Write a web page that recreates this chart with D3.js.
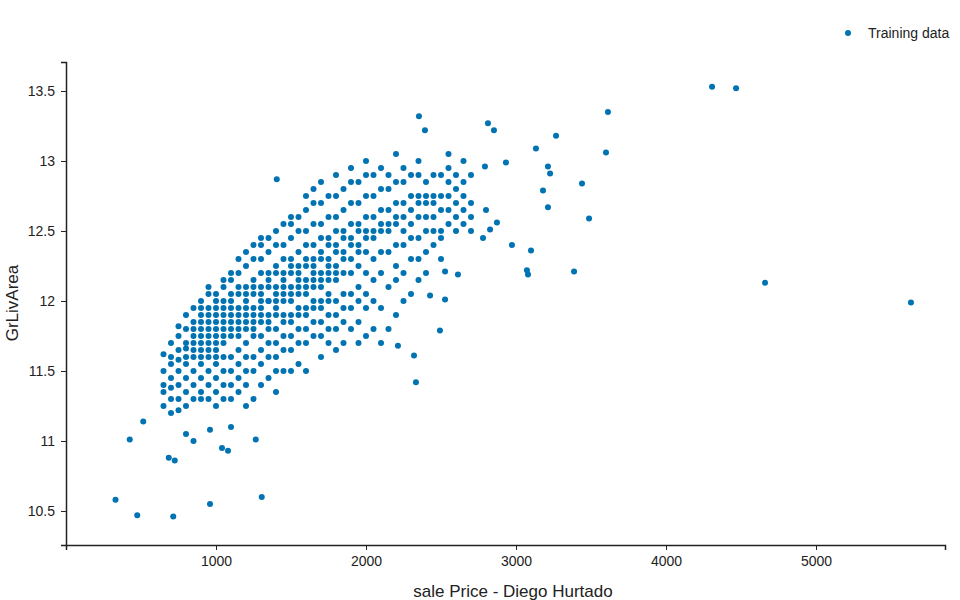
<!DOCTYPE html>
<html><head><meta charset="utf-8">
<script src="https://cdn.jsdelivr.net/npm/d3@7"></script>
<style>
body{margin:0;background:#fff;font-family:"Liberation Sans",Arial,sans-serif;}
.tick text{font-size:14px;fill:#222;}
</style></head><body>
<svg id="chart" width="960" height="600"></svg>
<script>
// outliers read point by point: [salePrice, GrLivArea]
const outliers = [
  [330,10.58],[475,10.47],[715,10.46],[960,10.55],[1305,10.60],[425,11.01],[515,11.14],
  [1265,11.01],[1080,10.93],[1040,10.95],[685,10.88],[725,10.86],[960,11.08],
  [2320,11.61],[2213,11.68],[2333,11.42],[1405,12.87],[2353,13.32],[2393,13.22],
  [2813,13.27],[2853,13.22],[3267,13.18],[3133,13.09],[3613,13.35],[3600,13.06],
  [3213,12.96],[3227,12.91],[3180,12.79],[3213,12.67],[3440,12.84],[3487,12.59],
  [3387,12.21],[3073,12.22],[3080,12.19],[3100,12.36],[2973,12.40],[2933,12.99],
  [2793,12.96],[4307,13.53],[4467,13.52],[4660,12.13],[5633,11.99],[2873,12.56],
  [2827,12.51],[2780,12.45],[2800,12.65],[2613,12.19],[2527,12.21],[2527,12.01],
  [2493,11.79],[2427,12.04]
];
// main cloud, grouped by approximate sale price column
const cloud = [
  [650,[11.35,11.5,11.62,11.4,11.25]],
  [700,[11.3,11.45,11.6,11.7,11.55,11.2,11.38]],
  [750,[11.5,11.65,11.75,11.4,11.3,11.58,11.82,11.22]],
  [800,[11.6,11.7,11.8,11.45,11.35,11.9,11.55,11.25,11.05,11.66]],
  [850,[11.7,11.85,11.75,11.6,11.5,11.4,11.95,11.3,11.65,11.8,11.0]],
  [900,[11.75,11.9,11.8,11.65,11.55,11.45,12.0,11.35,11.7,11.85,11.6,11.3,11.95]],
  [950,[11.8,11.9,11.7,11.6,11.5,12.05,11.4,11.85,11.75,11.95,11.3,12.1,11.65]],
  [1000,[11.85,11.95,11.75,11.65,11.55,12.05,11.45,11.9,11.8,12.0,11.35,11.25,11.7,11.6]],
  [1050,[11.9,12.0,11.8,11.7,11.6,12.1,11.5,11.95,11.85,11.4,11.3,12.15,11.75]],
  [1100,[11.9,12.05,11.85,11.75,11.6,12.15,11.5,12.0,11.95,11.4,11.3,12.2,11.8,11.1]],
  [1150,[11.95,12.1,11.9,11.8,11.65,12.2,11.55,12.05,11.85,11.45,11.35,12.3,11.75]],
  [1200,[12.0,12.1,11.95,11.85,11.7,12.25,11.6,12.05,11.9,11.5,11.4,12.35,11.8,11.25]],
  [1250,[12.05,12.15,11.95,11.85,11.75,12.3,11.6,12.1,11.9,11.5,12.4,11.8,11.3]],
  [1300,[12.05,12.2,12.0,11.9,11.75,12.3,11.65,12.1,11.95,11.55,12.4,11.85,11.4,12.45]],
  [1350,[12.1,12.2,12.0,11.9,11.8,12.35,11.7,12.15,12.0,11.6,12.45,11.85,11.45]],
  [1400,[12.1,12.25,12.05,11.95,11.8,12.4,11.7,12.2,12.0,11.6,12.5,11.9,11.5,11.35]],
  [1450,[12.15,12.3,12.1,12.0,11.85,12.4,11.75,12.2,12.05,11.65,12.55,11.9,11.5]],
  [1500,[12.2,12.3,12.1,12.0,11.85,12.45,11.75,12.25,12.05,11.65,12.55,11.9,11.5,12.6]],
  [1550,[12.2,12.35,12.15,12.05,11.9,12.5,11.8,12.25,12.1,11.7,12.6,11.95,11.55]],
  [1600,[12.25,12.4,12.15,12.05,11.9,12.5,11.8,12.3,12.1,11.7,12.65,11.95,12.75,11.5]],
  [1650,[12.25,12.4,12.2,12.1,11.95,12.55,11.85,12.3,12.15,11.75,12.7,12.0,12.8]],
  [1700,[12.3,12.45,12.2,12.1,11.95,12.55,11.85,12.35,12.15,11.75,12.7,12.0,11.6,12.85]],
  [1750,[12.3,12.45,12.25,12.15,12.0,12.6,11.9,12.4,12.2,11.8,12.75,12.05,11.7]],
  [1800,[12.35,12.5,12.25,12.15,12.0,12.6,11.9,12.4,12.2,11.8,12.75,12.9,11.65]],
  [1850,[12.35,12.5,12.3,12.2,12.05,12.65,11.95,12.45,11.85,12.8,11.7]],
  [1900,[12.4,12.55,12.3,12.2,12.05,12.7,11.95,12.45,11.8,12.85,12.95]],
  [1950,[12.4,12.55,12.35,12.25,12.1,12.7,12.0,12.5,11.85,12.85,11.7]],
  [2000,[12.45,12.6,12.35,12.2,12.05,12.75,11.95,12.5,11.75,12.9,13.0]],
  [2050,[12.45,12.6,12.3,12.15,12.75,12.0,12.5,11.8,12.9]],
  [2100,[12.5,12.65,12.35,12.2,12.8,11.95,12.55,11.7,12.95]],
  [2150,[12.5,12.65,12.35,12.8,12.1,12.55,11.8,12.9]],
  [2200,[12.55,12.7,12.4,12.85,12.15,12.6,11.9,13.05,12.25]],
  [2250,[12.5,12.7,12.4,12.85,12.2,12.6,12.0,12.95]],
  [2300,[12.55,12.75,12.45,12.9,12.3,12.65,12.05]],
  [2350,[12.6,12.75,12.45,12.9,12.3,12.7,12.15,13.0]],
  [2400,[12.6,12.75,12.5,12.85,12.35,12.7,12.2]],
  [2450,[12.6,12.75,12.5,12.9,12.4,12.7]],
  [2500,[12.65,12.75,12.5,12.9,12.45,12.3]],
  [2550,[12.65,12.75,12.55,12.85,12.95,13.05]],
  [2600,[12.7,12.8,12.6,12.5,12.9]],
  [2650,[12.65,12.75,12.55,12.85,13.0]],
  [2700,[12.7,12.6,12.5,12.9]]
];
const xTicks = [1000,2000,3000,4000,5000];
const yTicks = [10.5,11,11.5,12,12.5,13,13.5];
const yTickLabels = ["10.5","11","11.5","12","12.5","13","13.5"];

const points = outliers.concat(cloud.flatMap(([x, ys]) => ys.map(y => [x, y])));

const svg = d3.select("#chart");
const mLeft = 66, mRight = 945, mTop = 62, mBottom = 545;
const color = "#0173b2";

const x = d3.scaleLinear().domain([0, 5860]).range([mLeft, mRight]);
const y = d3.scaleLinear().domain([10.257, 13.707]).range([mBottom, mTop]);

const xAxis = svg.append("g").attr("transform", `translate(0,${mBottom})`)
  .call(d3.axisBottom(x).tickValues(xTicks).tickFormat(d3.format("d")).tickSize(5).tickPadding(6));
const yAxis = svg.append("g").attr("transform", `translate(${mLeft},0)`)
  .call(d3.axisLeft(y).tickValues(yTicks).tickFormat((d, i) => yTickLabels[i]).tickSize(5).tickPadding(6));
[xAxis, yAxis].forEach(a => {
  a.select(".domain").attr("stroke", "#222").attr("stroke-width", 1.5);
  a.selectAll(".tick line").attr("stroke", "#222");
});

svg.append("g").selectAll("circle").data(points).join("circle")
  .attr("cx", d => x(d[0])).attr("cy", d => y(d[1])).attr("r", 3).attr("fill", color);

svg.append("text").attr("x", 513).attr("y", 597).attr("text-anchor", "middle")
  .attr("font-size", 17).attr("fill", "#222").text("sale Price - Diego Hurtado");
svg.append("text").attr("transform", "translate(18,303) rotate(-90)").attr("text-anchor", "middle")
  .attr("font-size", 17).attr("fill", "#222").text("GrLivArea");

svg.append("circle").attr("cx", 848).attr("cy", 33).attr("r", 3).attr("fill", color);
svg.append("text").attr("x", 868).attr("y", 38).attr("font-size", 14).attr("fill", "#222").text("Training data");
</script></body></html>
